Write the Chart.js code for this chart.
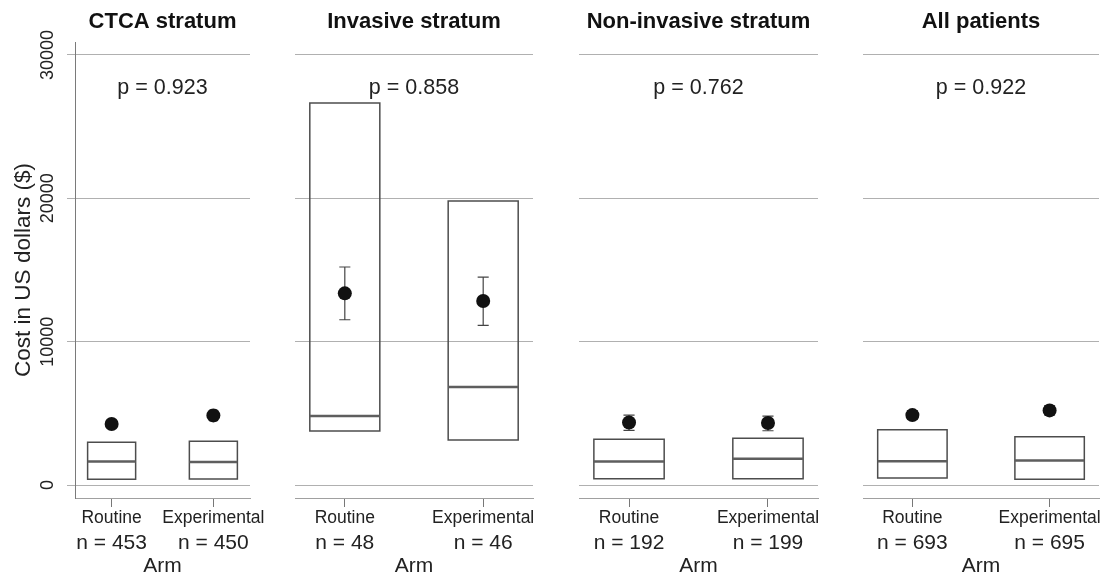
<!DOCTYPE html>
<html>
<head>
<meta charset="utf-8">
<script src="https://cdn.jsdelivr.net/npm/chart.js@4.4.0/dist/chart.umd.min.js"></script>
<style>
  body { margin: 0; background: #fff; }
  #wrap { position: relative; width: 1106px; height: 579px; overflow: hidden; }
  canvas { position: absolute; top: 0; }
</style>
</head>
<body>
<div id="wrap">
  <canvas id="c0" width="270" height="579" style="left:0px"></canvas>
  <canvas id="c1" width="278" height="579" style="left:275px"></canvas>
  <canvas id="c2" width="279" height="579" style="left:559px"></canvas>
  <canvas id="c3" width="263" height="579" style="left:843px"></canvas>
</div>
<script>
const PANELS = ['CTCA stratum', 'Invasive stratum', 'Non-invasive stratum', 'All patients'];
const ARMS = ['Routine', 'Experimental'];
const P_VALUES = ['0.923', '0.858', '0.762', '0.922'];
const N_ROUTINE = [453, 48, 192, 693];
const N_EXPERIMENTAL = [450, 46, 199, 695];
const Y_TICKS = [0, 10000, 20000, 30000];

// [routine, experimental] per panel
const Q1 = [[400, 420], [3770, 3140], [440, 440], [490, 400]];
const MEDIAN = [[1650, 1610], [4810, 6840], [1650, 1840], [1670, 1720]];
const Q3 = [[2980, 3050], [26650, 19810], [3190, 3260], [3860, 3370]];
const MEAN = [[4260, 4860], [13370, 12840], [4370, 4330], [4880, 5210]];
const CI_LOW = [[3950, 4470], [11530, 11140], [3820, 3790], [4600, 4900]];
const CI_HIGH = [[4560, 5230], [15210, 14510], [4880, 4810], [5170, 5530]];

Chart.defaults.font.family = "'Liberation Sans', Arial, Helvetica, sans-serif";
Chart.defaults.color = '#222';

const frames = [
  { pad: { left: 0, right: 20 }, yAxis: true, half: 0.236 },
  { pad: { left: 20, right: 20 }, yAxis: false, half: 0.253 },
  { pad: { left: 20, right: 20 }, yAxis: false, half: 0.253 },
  { pad: { left: 20, right: 4 }, yAxis: false, half: 0.253 }
];
const X_MIN = 0.64, X_MAX = 2.36, CAP = 0.04;

const pText = {
  id: 'pText',
  afterDatasetsDraw(chart, args, opts) {
    const { ctx, chartArea, scales } = chart;
    ctx.save();
    ctx.font = "21.5px 'Liberation Sans', Arial, sans-serif";
    ctx.fillStyle = '#222';
    ctx.textAlign = 'center';
    ctx.textBaseline = 'middle';
    ctx.fillText('p = ' + opts.value, (chartArea.left + chartArea.right) / 2, scales.y.getPixelForValue(opts.at));
    ctx.restore();
  }
};

const armTicks = s => { s.ticks = [{ value: 1 }, { value: 2 }]; };

function makePanel(p) {
  const f = frames[p];
  const boxes = [], medians = [], bars = [], means = [];
  for (let i = 0; i < 2; i++) {
    const x = i + 1;
    boxes.push({ x: x - f.half, y: Q1[p][i] }, { x: x + f.half, y: Q1[p][i] },
      { x: x + f.half, y: Q3[p][i] }, { x: x - f.half, y: Q3[p][i] },
      { x: x - f.half, y: Q1[p][i] }, { x: NaN, y: null });
    medians.push({ x: x - f.half, y: MEDIAN[p][i] }, { x: x + f.half, y: MEDIAN[p][i] }, { x: NaN, y: null });
    bars.push({ x: x, y: CI_LOW[p][i] }, { x: x, y: CI_HIGH[p][i] }, { x: NaN, y: null },
      { x: x - CAP, y: CI_LOW[p][i] }, { x: x + CAP, y: CI_LOW[p][i] }, { x: NaN, y: null },
      { x: x - CAP, y: CI_HIGH[p][i] }, { x: x + CAP, y: CI_HIGH[p][i] }, { x: NaN, y: null });
    means.push({ x: x, y: MEAN[p][i] });
  }
  const nCounts = [N_ROUTINE[p], N_EXPERIMENTAL[p]];

  const yScale = {
    min: -900, max: 30900,
    afterBuildTicks: s => { s.ticks = Y_TICKS.map(v => ({ value: v })); },
    afterFit: s => { s.width = f.yAxis ? 75 : 0; s.paddingTop = 0; s.paddingBottom = 0; },
    grid: { color: '#b0b0b0', lineWidth: 1, drawTicks: f.yAxis, tickLength: 8 },
    border: { display: f.yAxis, color: '#7a7a7a', width: 1 },
    ticks: {
      display: f.yAxis, minRotation: 90, maxRotation: 90, crossAlign: 'center', padding: -6,
      font: { size: 18 }, color: '#222', callback: v => String(v)
    },
    title: {
      display: f.yAxis, text: 'Cost in US dollars ($)', font: { size: 22.5 }, color: '#222',
      padding: { top: 10, bottom: 0 }
    }
  };

  new Chart(document.getElementById('c' + p), {
    type: 'line',
    data: {
      datasets: [
        { data: means, showLine: false, pointRadius: 7, pointBackgroundColor: '#111', pointBorderWidth: 0, order: 0 },
        { data: bars, borderColor: '#444', borderWidth: 1.2, pointRadius: 0, order: 1 },
        { data: medians, borderColor: '#5e5e5e', borderWidth: 2.5, pointRadius: 0, order: 2 },
        { data: boxes, borderColor: '#4d4d4d', borderWidth: 1.5, pointRadius: 0, borderCapStyle: 'square', borderJoinStyle: 'miter', order: 3 }
      ]
    },
    options: {
      responsive: false,
      animation: false,
      events: [],
      layout: { padding: { left: f.pad.left, right: f.pad.right, top: 0, bottom: 0 } },
      plugins: {
        legend: { display: false },
        tooltip: { enabled: false },
        title: {
          display: true, text: PANELS[p], fullSize: false, color: '#111',
          font: { size: 22, weight: 'bold' }, padding: { top: 9, bottom: 6.6 }
        },
        pText: { value: P_VALUES[p], at: 27700 }
      },
      scales: {
        x: {
          type: 'linear', axis: 'x', position: 'bottom', min: X_MIN, max: X_MAX, offset: false,
          afterBuildTicks: armTicks,
          afterFit: s => { s.height = 30; s.paddingLeft = 0; s.paddingRight = 0; },
          grid: { display: true, drawOnChartArea: false, drawTicks: true, tickLength: 9, color: '#777' },
          border: { display: true, color: '#a0a0a0', width: 1 },
          ticks: { callback: v => ARMS[v - 1], font: { size: 17.5 }, color: '#222', padding: 1, autoSkip: false, maxRotation: 0, minRotation: 0 }
        },
        x2: {
          type: 'linear', axis: 'x', position: 'bottom', weight: 1, min: X_MIN, max: X_MAX, offset: false,
          afterBuildTicks: armTicks,
          afterFit: s => { s.height = 51; s.paddingLeft = 0; s.paddingRight = 0; },
          grid: { display: false, drawTicks: false },
          border: { display: false },
          ticks: { callback: v => 'n = ' + nCounts[v - 1], font: { size: 21 }, color: '#222', padding: 3, autoSkip: false, maxRotation: 0, minRotation: 0 },
          title: { display: true, text: 'Arm', font: { size: 21 }, color: '#222', padding: { top: 0, bottom: 0 } }
        },
        y: yScale
      }
    },
    plugins: [pText]
  });
}

PANELS.forEach((t, p) => makePanel(p));
</script>
</body>
</html>
